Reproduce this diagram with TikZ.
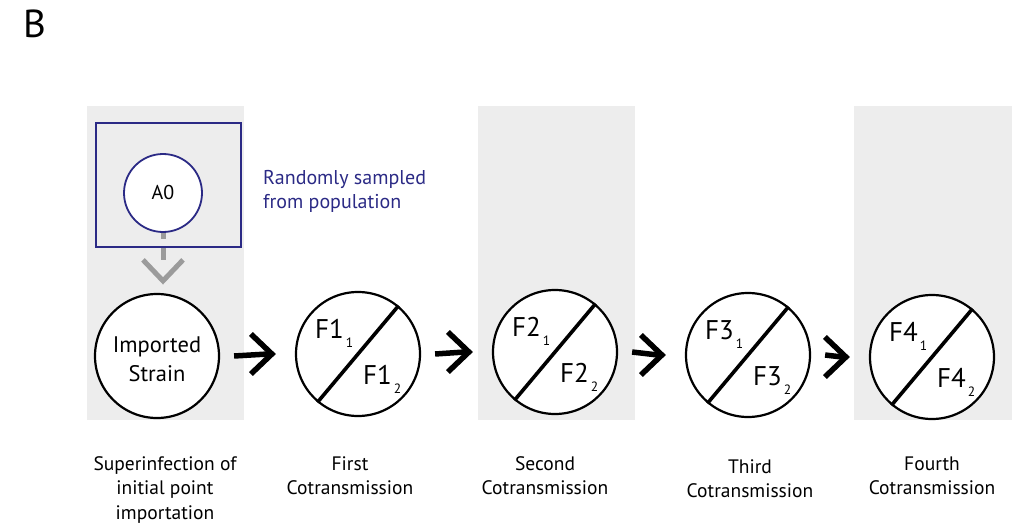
\documentclass[tikz,border=0pt]{standalone}
\usepackage{fontspec}
\setmainfont{PT Sans}
\usetikzlibrary{calc}
\definecolor{panel}{HTML}{EDEDED}
\definecolor{navy}{HTML}{2B2A85}
\definecolor{stem}{HTML}{9B9B9B}
\newcommand{\hostlabel}[2]{#1\hspace{2pt}\raisebox{-9pt}{\fontsize{13.5}{13.5}\selectfont #2}}
\begin{document}
\begin{tikzpicture}[x=1pt,y=-1pt,
  strain/.style={circle, draw=black, line width=2.2pt, fill=white,
    minimum size=124pt, inner sep=0pt},
  split/.style={line width=3.6pt, black},
  half/.style={anchor=base west, inner sep=0pt, font=\fontsize{27}{27}\selectfont},
  shaft/.style={line width=5.5pt, black, line cap=butt},
  barb/.style={line width=5.5pt, black, line cap=butt, line join=miter},
  caption/.style={align=center, font=\fontsize{19.5}{24.5}\selectfont, anchor=north},
]
\useasboundingbox (0,0) rectangle (1023,524);

% panel label
\node[anchor=base west, inner sep=0pt, font=\fontsize{39}{39}\selectfont] (lbl) at (23,38) {B};

% shaded columns
\fill[panel] (87,106) rectangle (244,420);
\fill[panel] (478,106) rectangle (635,420);
\fill[panel] (854,106) rectangle (1012,420);

% sampled ancestor
\node[circle, draw=navy, line width=1.8pt, fill=white, minimum size=78pt,
  inner sep=0pt, font=\fontsize{20}{20}\selectfont] (a0) at (163,193) {A0};

% strains
\node[strain] (imp) at (157,356) {};
\node[align=center, inner sep=0pt, font=\fontsize{22.5}{29}\selectfont] (imptext)
  at ($(imp)+(0,3)$) {Imported\\Strain};
\node[strain] (f1) at (358,354) {};
\node[strain] (f2) at (555,352) {};
\node[strain] (f3) at (748,355) {};
\node[strain] (f4) at (932,357) {};

% split circles
\foreach \k in {1,2,3,4}{
  \draw[split] (f\k.230) -- (f\k.50);
  \node[half] (f\k a) at ($(f\k)+(-43,-16)$) {\hostlabel{F\k}{1}};
  \node[half] (f\k b) at ($(f\k)+(5,30)$) {\hostlabel{F\k}{2}};
}

% sampling arrow: dashed stem and open chevron
\coordinate (stemtip) at ($(a0.south |- imp.north)+(0,-12)$);
\draw[stem, line width=5pt, dash pattern=on 6pt off 9pt on 12pt off 40pt]
  (a0.south) -- ($(stemtip)+(0,-4)$);
\draw[stem, line width=5pt, line join=miter]
  ($(stemtip)+(-20,-21)$) -- (stemtip) -- ($(stemtip)+(20,-21)$);

% sampling box
\node[draw=navy, line width=1.8pt, minimum width=145pt, minimum height=124pt,
  inner sep=0pt] (pick) at (168.5,185) {};
\node[anchor=north west, align=left, text=navy, inner sep=0pt,
  font=\fontsize{20}{24.5}\selectfont] (note) at (263,170)
  {Randomly sampled\\from population};

% transmission arrows
\foreach \a/\b in {imp/f1, f1/f2, f2/f3, f3/f4}{
  \coordinate (\a tip) at ($(\b.west)+(-23,0)$);
  \draw[shaft] ($(\a.east)+(14,0)$) -- ($(\a tip)+(-4,0)$);
  \draw[barb] ($(\a tip)+(-21,-20)$) -- (\a tip) -- ($(\a tip)+(-21,20)$);
}

% captions
\node[caption] (c0) at (165,453) {Superinfection of\\initial point\\importation};
\node[caption] (c1) at (350,453) {First\\Cotransmission};
\node[caption] (c2) at (545,453) {Second\\Cotransmission};
\node[caption] (c3) at (750,456) {Third\\Cotransmission};
\node[caption] (c4) at (932,453) {Fourth\\Cotransmission};
\end{tikzpicture}
\end{document}
